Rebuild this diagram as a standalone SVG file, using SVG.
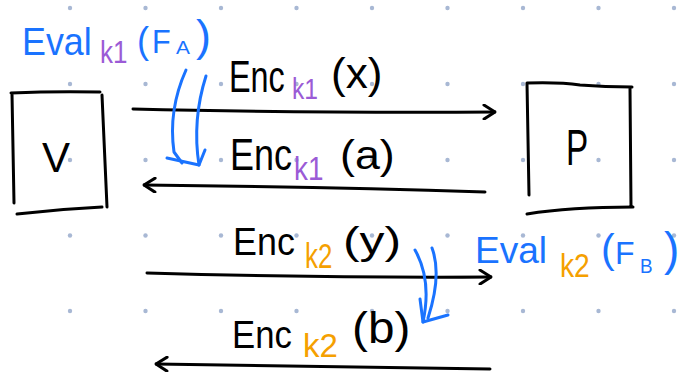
<svg xmlns="http://www.w3.org/2000/svg" width="678" height="375" viewBox="0 0 678 375">
<style>
.hand{font-family:"Liberation Sans","DejaVu Sans",sans-serif;}
.blk{fill:#000;}
.blue{fill:#1a73ff;}
.pur{fill:#9b5bd6;}
.org{fill:#f5a000;}
.ln{fill:none;stroke:#000;stroke-width:3;stroke-linecap:round;stroke-linejoin:round;}
.bl{fill:none;stroke:#1a73ff;stroke-width:3;stroke-linecap:round;stroke-linejoin:round;}
.dot{fill:#a8b8d4;}
</style>
<defs>
<marker id="ah" viewBox="0 0 14 16" refX="13" refY="8" markerWidth="14" markerHeight="16" markerUnits="userSpaceOnUse" orient="auto">
<path d="M2,1 L13,8 L2,15" fill="none" stroke="#000" stroke-width="3" stroke-linecap="round" stroke-linejoin="round"/>
</marker>
</defs>
<g id="grid">
<circle class="dot" cx="70" cy="8" r="2.2"/><circle class="dot" cx="145.5" cy="8" r="2.2"/><circle class="dot" cx="221" cy="8" r="2.2"/><circle class="dot" cx="296.5" cy="8" r="2.2"/><circle class="dot" cx="372" cy="8" r="2.2"/><circle class="dot" cx="447.5" cy="8" r="2.2"/><circle class="dot" cx="523" cy="8" r="2.2"/><circle class="dot" cx="598.5" cy="8" r="2.2"/><circle class="dot" cx="674" cy="8" r="2.2"/>
<circle class="dot" cx="70" cy="84" r="2.2"/><circle class="dot" cx="145.5" cy="84" r="2.2"/><circle class="dot" cx="221" cy="84" r="2.2"/><circle class="dot" cx="296.5" cy="84" r="2.2"/><circle class="dot" cx="372" cy="84" r="2.2"/><circle class="dot" cx="447.5" cy="84" r="2.2"/><circle class="dot" cx="523" cy="84" r="2.2"/><circle class="dot" cx="598.5" cy="84" r="2.2"/><circle class="dot" cx="674" cy="84" r="2.2"/>
<circle class="dot" cx="70" cy="160" r="2.2"/><circle class="dot" cx="145.5" cy="160" r="2.2"/><circle class="dot" cx="221" cy="160" r="2.2"/><circle class="dot" cx="296.5" cy="160" r="2.2"/><circle class="dot" cx="372" cy="160" r="2.2"/><circle class="dot" cx="447.5" cy="160" r="2.2"/><circle class="dot" cx="523" cy="160" r="2.2"/><circle class="dot" cx="598.5" cy="160" r="2.2"/><circle class="dot" cx="674" cy="160" r="2.2"/>
<circle class="dot" cx="70" cy="235.5" r="2.2"/><circle class="dot" cx="145.5" cy="235.5" r="2.2"/><circle class="dot" cx="221" cy="235.5" r="2.2"/><circle class="dot" cx="296.5" cy="235.5" r="2.2"/><circle class="dot" cx="372" cy="235.5" r="2.2"/><circle class="dot" cx="447.5" cy="235.5" r="2.2"/><circle class="dot" cx="523" cy="235.5" r="2.2"/><circle class="dot" cx="598.5" cy="235.5" r="2.2"/><circle class="dot" cx="674" cy="235.5" r="2.2"/>
<circle class="dot" cx="70" cy="311" r="2.2"/><circle class="dot" cx="145.5" cy="311" r="2.2"/><circle class="dot" cx="221" cy="311" r="2.2"/><circle class="dot" cx="296.5" cy="311" r="2.2"/><circle class="dot" cx="372" cy="311" r="2.2"/><circle class="dot" cx="447.5" cy="311" r="2.2"/><circle class="dot" cx="523" cy="311" r="2.2"/><circle class="dot" cx="598.5" cy="311" r="2.2"/><circle class="dot" cx="674" cy="311" r="2.2"/>
</g>
<g id="V">
<path class="ln" d="M11,93 Q55,91 100,92 M102,95 L107,207 M12,94 L14,203 M17,214 Q60,209 102,207"/>
<text class="hand blk" transform="translate(42,172)" font-size="42">V</text>
</g>
<g id="P">
<path class="ln" d="M527,83 L529,195 M527,83 Q560,82 580,85 Q605,87 632,87 M630,88 L631,207 M527,214 Q570,207 633,207"/>
<text class="hand blk" transform="translate(566,165) scale(0.68,1)" font-size="49">P</text>
</g>
<g id="connectors">
<path class="ln" d="M133,109 Q300,113 495,112" marker-end="url(#ah)"/>
<path class="ln" d="M485,192 Q320,187 144,185" marker-end="url(#ah)"/>
<path class="ln" d="M147,273 Q320,278 491,277" marker-end="url(#ah)"/>
<path class="ln" d="M490,369 Q330,366 156,364" marker-end="url(#ah)"/>
<path class="bl" d="M186,70 Q168,110 174,152 L182,163"/>
<path class="bl" d="M206,76 Q192,120 199,165"/>
<path class="bl" d="M167,158 L199,165 L205,150"/>
<path class="bl" d="M415,250 Q432,280 423,322"/>
<path class="bl" d="M432,248 Q442,275 428,318"/>
<path class="bl" d="M420,299 L423,322 L448,315"/>
</g>
<g id="label-eval1">
<text class="hand blue" transform="translate(22,55) scale(0.92,1)" font-size="39">Eval</text>
<text class="hand pur" transform="translate(100,63) scale(0.84,1)" font-size="31">k1</text>
<text class="hand blue" transform="translate(137,53)" font-size="36">(</text>
<text class="hand blue" transform="translate(152,53) scale(0.9,1)" font-size="34">F</text>
<text class="hand blue" transform="translate(176,54) scale(1.1,1)" font-size="19">A</text>
<text class="hand blue" transform="translate(196,51)" font-size="45">)</text>
</g>
<g id="label-enc1">
<text class="hand blk" transform="translate(229,92) scale(0.72,1)" font-size="45">Enc</text>
<text class="hand pur" transform="translate(292,99) scale(0.85,1)" font-size="29">k1</text>
<text class="hand blk" transform="translate(331,88) scale(1.05,1)" font-size="42">(x)</text>
</g>
<g id="label-enc2">
<text class="hand blk" transform="translate(230,170) scale(0.8,1)" font-size="45">Enc</text>
<text class="hand pur" transform="translate(294,180) scale(0.82,1)" font-size="34">k1</text>
<text class="hand blk" transform="translate(340,169) scale(1.12,1)" font-size="40">(a)</text>
</g>
<g id="label-enc3">
<text class="hand blk" transform="translate(233,255) scale(0.92,1)" font-size="39">Enc</text>
<text class="hand org" transform="translate(305,268) scale(0.74,1)" font-size="35">k2</text>
<text class="hand blk" transform="translate(343,254) scale(1.28,1)" font-size="39">(y)</text>
</g>
<g id="label-enc4">
<text class="hand blk" transform="translate(232,348) scale(0.89,1)" font-size="39">Enc</text>
<text class="hand org" transform="translate(303,357) scale(1,1)" font-size="33">k2</text>
<text class="hand blk" transform="translate(352,343) scale(1.06,1)" font-size="45">(b)</text>
</g>
<g id="label-eval2">
<text class="hand blue" transform="translate(475,263) scale(1.03,1)" font-size="36">Eval</text>
<text class="hand org" transform="translate(560,277) scale(0.83,1)" font-size="34">k2</text>
<text class="hand blue" transform="translate(601,263)" font-size="41">(</text>
<text class="hand blue" transform="translate(615,264)" font-size="32">F</text>
<text class="hand blue" transform="translate(640,273) scale(0.9,1)" font-size="21">B</text>
<text class="hand blue" transform="translate(664,265)" font-size="46">)</text>
</g>
</svg>
